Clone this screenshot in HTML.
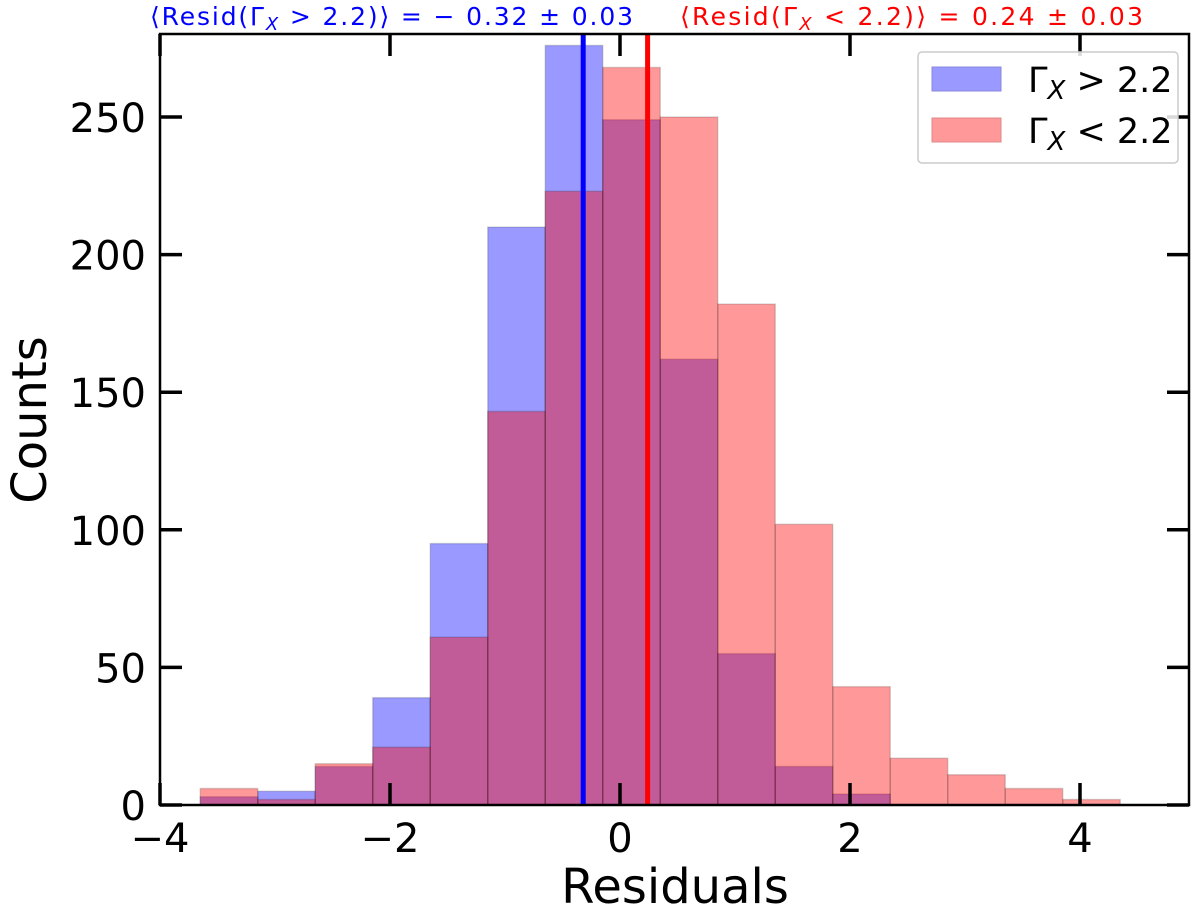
<!DOCTYPE html>
<html><head><meta charset="utf-8"><style>
html,body{margin:0;padding:0;background:#fff;}
svg{display:block;font-family:"DejaVu Sans","Liberation Sans",sans-serif;}
</style></head><body>
<svg id="chart" width="1200" height="913" viewBox="0 0 1200 913" xmlns="http://www.w3.org/2000/svg"></svg>
<script>
const binStart = -3.65;
const binWidth = 0.5;
const blueCounts = [3, 5, 14, 39, 95, 210, 276, 249, 162, 55, 14, 4, 0, 0, 0, 0];
const redCounts = [6, 2, 15, 21, 61, 143, 223, 268, 250, 182, 102, 43, 17, 11, 6, 2];
const meanBlue = -0.32;
const meanRed = 0.24;
const xTicks = [-4, -2, 0, 2, 4];
const yTicks = [0, 50, 100, 150, 200, 250];

const L = 160, R = 1189, T = 34, B = 805;
const xMin = -4, xMax = (R - L) / 115 - 4;
const yMin = 0, yMax = (B - T) / 2.752;
const sx = v => L + (v - xMin) / (xMax - xMin) * (R - L);
const sy = v => B - (v - yMin) / (yMax - yMin) * (B - T);
const svg = document.getElementById('chart');
const NS = 'http://www.w3.org/2000/svg';
function mk(tag, attrs, parent) {
  const e = document.createElementNS(NS, tag);
  for (const k in attrs) e.setAttribute(k, attrs[k]);
  (parent || svg).appendChild(e);
  return e;
}
function bars(counts, color, name) {
  const g = mk('g', {});
  
  
  counts.forEach((c, i) => {
    if (c <= 0) return;
    const x0 = sx(binStart + i * binWidth), x1 = sx(binStart + (i + 1) * binWidth);
    const r = mk('rect', {x: x0, y: sy(c), width: x1 - x0, height: sy(0) - sy(c), fill: color, 'fill-opacity': 0.4, stroke: 'rgba(0,0,0,0.15)', 'stroke-width': 1.5}, g);
    
    
  });
}
bars(blueCounts, '#0000ff', 'gamma-gt-2.2');
bars(redCounts, '#ff0000', 'gamma-lt-2.2');

const lb = mk('line', {x1: sx(meanBlue), x2: sx(meanBlue), y1: T, y2: B, stroke: '#0000ff', 'stroke-width': 5});


const lr = mk('line', {x1: sx(meanRed), x2: sx(meanRed), y1: T, y2: B, stroke: '#ff0000', 'stroke-width': 5});



const frame = mk('rect', {x: L, y: T, width: R - L, height: B - T, fill: 'none', stroke: '#000', 'stroke-width': 2.5});



xTicks.forEach(v => {
  const x = sx(v);
  const t1 = mk('line', {x1: x, x2: x, y1: B, y2: B - 22, stroke: '#000', 'stroke-width': 3.5});
  
  
  const t2 = mk('line', {x1: x, x2: x, y1: T, y2: T + 22, stroke: '#000', 'stroke-width': 3.5});
  
  
  const lab = mk('text', {x: x, y: 852, 'font-size': 40, 'text-anchor': 'middle', fill: '#000'});
  lab.textContent = v < 0 ? '\u2212' + Math.abs(v) : String(v);
  
  
});
yTicks.forEach(v => {
  const y = sy(v);
  const t1 = mk('line', {x1: L, x2: L + 22, y1: y, y2: y, stroke: '#000', 'stroke-width': 3.5});
  
  
  const t2 = mk('line', {x1: R, x2: R - 22, y1: y, y2: y, stroke: '#000', 'stroke-width': 3.5});
  
  
  const lab = mk('text', {x: 146, y: y + 15, 'font-size': 40, 'text-anchor': 'end', fill: '#000'});
  lab.textContent = String(v);
  
  
});
</script>
<svg style="position:absolute;left:0;top:0" width="1200" height="913">
  <text x="675" y="903" font-size="48" text-anchor="middle" font-family="DejaVu Sans, sans-serif">Residuals</text>
  <text transform="translate(46,420) rotate(-90)" font-size="48" text-anchor="middle" font-family="DejaVu Sans, sans-serif">Counts</text>
  <text x="150" y="25" font-size="25" fill="#0000ff" font-family="DejaVu Sans, sans-serif" textLength="483" lengthAdjust="spacing">⟨Resid(Γ<tspan font-style="italic" font-size="18" dy="5">X</tspan><tspan dy="-5"> &gt; 2.2)⟩ = − 0.32 ± 0.03</tspan></text>
  <text x="680" y="25" font-size="25" fill="#ff0000" font-family="DejaVu Sans, sans-serif" textLength="463" lengthAdjust="spacing">⟨Resid(Γ<tspan font-style="italic" font-size="18" dy="5">X</tspan><tspan dy="-5"> &lt; 2.2)⟩ = 0.24 ± 0.03</tspan></text>
  <g>
    <rect x="918" y="52" width="260" height="111" rx="4" fill="#fff" fill-opacity="0.85" stroke="#ccc" stroke-width="1.5"/>
    <rect x="932" y="67" width="69" height="24" fill="#9999ff" stroke="#8888dd" stroke-width="1"/>
    <text x="1028" y="92" font-size="35" font-family="DejaVu Sans, sans-serif">Γ<tspan font-style="italic" font-size="26" dy="7">X</tspan><tspan dy="-7"> &gt; 2.2</tspan></text>
    <rect x="932" y="118" width="69" height="24" fill="#ff9999" stroke="#dd8888" stroke-width="1"/>
    <text x="1028" y="143" font-size="35" font-family="DejaVu Sans, sans-serif">Γ<tspan font-style="italic" font-size="26" dy="7">X</tspan><tspan dy="-7"> &lt; 2.2</tspan></text>
  </g>
</svg>
</body></html>
